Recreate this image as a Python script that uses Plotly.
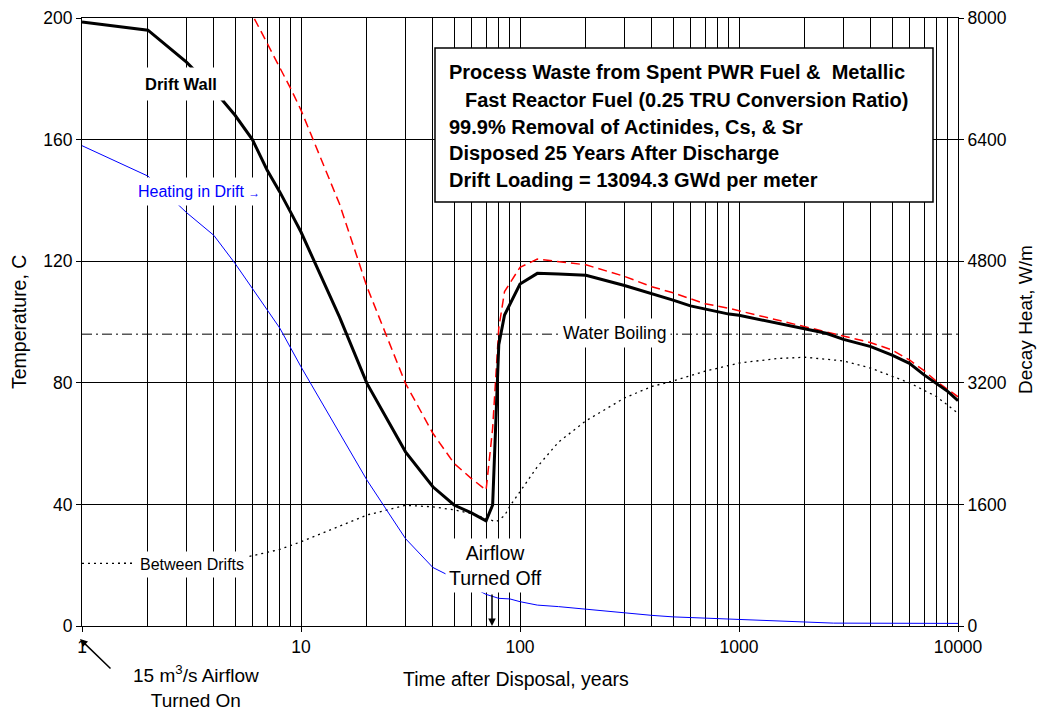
import plotly.graph_objects as go

# ---------------- data ----------------
time_wall = [1, 2, 3, 4, 5, 6, 7, 8, 9, 10, 15, 20, 30, 40, 50, 60, 70, 75, 80, 85,
             100, 120, 150, 200, 300, 400, 500, 600, 700, 900, 1000, 2000, 2500,
             3000, 4000, 5000, 6000, 7000, 8000, 9000, 10000]
temp_wall = [198.7, 196.0, 185.5, 176.3, 168.0, 160.0, 150.0, 142.8, 135.9, 129.6,
             101.6, 79.8, 57.3, 45.8, 39.8, 37.2, 34.6, 39.8, 92.5, 102.3,
             112.5, 116.0, 115.8, 115.4, 112.0, 109.4, 107.2, 105.3, 104.2, 102.6,
             102.2, 97.6, 96.3, 94.3, 91.9, 89.1, 86.4, 82.6, 79.8, 77.1, 74.1]

time_red = [5, 6, 7, 8, 9, 10, 15, 20, 30, 40, 50, 60, 70, 75, 80, 85, 100, 120,
            200, 300, 400, 500, 700, 900, 1000, 2000, 2500, 4000, 5000, 6000, 7000,
            8000, 10000]
temp_red = [212.0, 201.0, 192.2, 183.8, 176.6, 169.7, 138.8, 111.6, 79.8, 63.4,
            53.5, 48.5, 44.7, 65.0, 98.0, 110.0, 118.0, 120.7, 118.8, 115.0, 111.6,
            109.6, 106.0, 104.5, 103.7, 98.3, 96.8, 93.2, 90.8, 87.5, 84.0, 80.4, 75.4]

time_heat = [1, 2, 3, 4, 5, 6, 7, 8, 10, 15, 20, 30, 40, 50, 60, 70, 80, 90, 100,
             120, 150, 200, 300, 400, 500, 1000, 2000, 2500, 2700, 5000, 10000]
heat_wm = [6320, 5920, 5440, 5140, 4770, 4440, 4160, 3920, 3410, 2530, 1920, 1150,
           770, 630, 514, 416, 364, 356, 320, 275, 255, 220, 168, 140, 120, 88, 56,
           48, 38, 36, 34]

time_between = [1, 2, 3, 4, 5, 6, 8, 10, 15, 20, 30, 40, 50, 60, 70, 78, 85, 90,
                100, 120, 150, 200, 300, 400, 500, 700, 1000, 1500, 2000, 3000, 4000,
                5000, 6000, 8000, 10000]
temp_between = [20.6, 20.6, 20.7, 21.0, 22.0, 23.1, 25.2, 27.7, 33.0, 36.5, 39.7,
                39.2, 38.2, 37.0, 35.3, 34.3, 36.3, 39.5, 44.2, 52.4, 60.5, 67.5,
                75.0, 78.8, 80.6, 83.8, 86.5, 88.0, 88.4, 87.2, 84.8, 82.2, 80.0,
                75.4, 70.0]

boil_time = [1, 10000]
boil_temp = [96, 96]

x_ticks = [1, 10, 100, 1000, 10000]
x_minor = [m * 10 ** d for d in range(4) for m in range(2, 10)]
y_ticks = [0, 40, 80, 120, 160, 200]
y2_ticks = [0, 1600, 3200, 4800, 6400, 8000]

box_lines = [
    "Process Waste from Spent PWR Fuel &  Metallic",
    "Fast Reactor Fuel (0.25 TRU Conversion Ratio)",
    "99.9% Removal of Actinides, Cs, & Sr",
    "Disposed 25 Years After Discharge",
    "Drift Loading = 13094.3 GWd per meter",
]

# ---------------- layout helpers (pixel -> paper) ----------------
W, H = 1038, 712
L, R, T, B = 82, 958, 18, 626


def px(x):
    return (x - L) / (R - L)


def py(y):
    return (B - y) / (B - T)


FONT = "Liberation Sans, Arial, sans-serif"

fig = go.Figure()

fig.add_trace(go.Scatter(x=boil_time, y=boil_temp, mode="lines",
                         line=dict(color="black", width=1, dash="10px,4px,2px,4px"),
                         showlegend=False, hoverinfo="skip"))
fig.add_trace(go.Scatter(x=time_between, y=temp_between, mode="lines",
                         line=dict(color="black", width=1.3, dash="2px,4px"),
                         showlegend=False))
fig.add_trace(go.Scatter(x=time_heat, y=heat_wm, mode="lines", yaxis="y2",
                         line=dict(color="#0000ff", width=1),
                         showlegend=False))
fig.add_trace(go.Scatter(x=time_red, y=temp_red, mode="lines",
                         line=dict(color="#ff0000", width=1.5, dash="9px,5px"),
                         showlegend=False))
fig.add_trace(go.Scatter(x=time_wall, y=temp_wall, mode="lines",
                         line=dict(color="black", width=3),
                         showlegend=False))

annotations = []


def label(text, x, y, size=16, color="black", bg="white", pad=4, **kw):
    annotations.append(dict(text=text, x=px(x), y=py(y), xref="paper", yref="paper",
                            xanchor="center", yanchor="middle",
                            showarrow=False, font=dict(size=size, color=color, family=FONT),
                            bgcolor=bg, borderpad=pad, **kw))


label("<b>Drift Wall</b>", 181, 84, size=16.5, pad=7)
label("Heating in Drift <span style='font-size:12px'>→</span>", 199, 191, size=16,
      color="#0000ff", pad=5)
label("Between Drifts", 192, 564, size=16, pad=4)
label("Water Boiling", 614, 333, size=17.5, pad=4)
label("Airflow<br>Turned Off", 495, 565, size=19.5, pad=3)
label("15 m<sup>3</sup>/s Airflow<br>Turned On", 196, 686, size=19,
      bg="rgba(0,0,0,0)", pad=0)

# arrows
annotations.append(dict(x=px(492), y=py(626), xref="paper", yref="paper", text="",
                        showarrow=True, arrowhead=2, arrowsize=1, arrowwidth=1.5,
                        arrowcolor="black", ax=0, ay=-33, axref="pixel", ayref="pixel"))
annotations.append(dict(x=px(80), y=py(639), xref="paper", yref="paper", text="",
                        showarrow=True, arrowhead=2, arrowsize=1, arrowwidth=1.5,
                        arrowcolor="black", ax=32, ay=31, axref="pixel", ayref="pixel"))

# box text
box_y = [72, 100, 127, 153, 180]
box_x = [447, 463, 447, 447, 447]
for txt, bx, by in zip(box_lines, box_x, box_y):
    annotations.append(dict(text="<b>" + txt + "</b>", x=px(bx), y=py(by),
                            xref="paper", yref="paper", xanchor="left", yanchor="middle",
                            showarrow=False, font=dict(size=20, color="black", family=FONT)))

# axis titles
annotations.append(dict(text="Time after Disposal, years", x=px(516), y=py(679),
                        xref="paper", yref="paper", showarrow=False,
                        xanchor="center", yanchor="middle",
                        font=dict(size=19.5, color="black", family=FONT)))
annotations.append(dict(text="Temperature, C", x=px(19), y=py(322), xref="paper",
                        yref="paper", showarrow=False, textangle=-90,
                        xanchor="center", yanchor="middle",
                        font=dict(size=19.5, color="black", family=FONT)))
annotations.append(dict(text="Decay Heat, W/m", x=px(1025), y=py(320), xref="paper",
                        yref="paper", showarrow=False, textangle=-90,
                        xanchor="center", yanchor="middle",
                        font=dict(size=19, color="black", family=FONT)))

shapes = [dict(type="rect", xref="paper", yref="paper", x0=px(435), x1=px(933),
               y0=py(202), y1=py(48), fillcolor="white",
               line=dict(color="black", width=1.5), layer="above")]

GRID = "#000000"
fig.update_layout(
    width=W, height=H,
    margin=dict(l=L, r=W - R, t=T, b=H - B, autoexpand=False),
    paper_bgcolor="white", plot_bgcolor="white",
    font=dict(family=FONT, size=17.5, color="black"),
    xaxis=dict(type="log", range=[0, 4], tickmode="array", tickvals=x_ticks,
               ticktext=[str(v) for v in x_ticks], ticks="outside", ticklen=5,
               tickcolor="black", showgrid=True, gridcolor=GRID, gridwidth=1,
               showline=True, linecolor="black", linewidth=1, mirror=True,
               zeroline=False, tickfont=dict(size=17.5), automargin=False,
               minor=dict(tickmode="array", tickvals=x_minor, showgrid=True,
                          gridcolor=GRID, gridwidth=1, ticks="")),
    yaxis=dict(range=[0, 200], tickmode="array", tickvals=y_ticks, ticks="outside",
               ticklen=5, tickcolor="black", showgrid=True, gridcolor=GRID,
               gridwidth=1, showline=True, linecolor="black", linewidth=1,
               zeroline=False, tickfont=dict(size=17.5), automargin=False),
    yaxis2=dict(range=[0, 8000], overlaying="y", side="right", tickmode="array",
                tickvals=y2_ticks, ticks="outside", ticklen=5, tickcolor="black",
                showgrid=False, showline=True, linecolor="black", linewidth=1,
                zeroline=False, tickfont=dict(size=17.5), automargin=False),
    annotations=annotations,
    shapes=shapes,
    showlegend=False,
)

fig.write_html("out.html", config={"displayModeBar": False},
               post_script="document.body.style.margin='0px';")
